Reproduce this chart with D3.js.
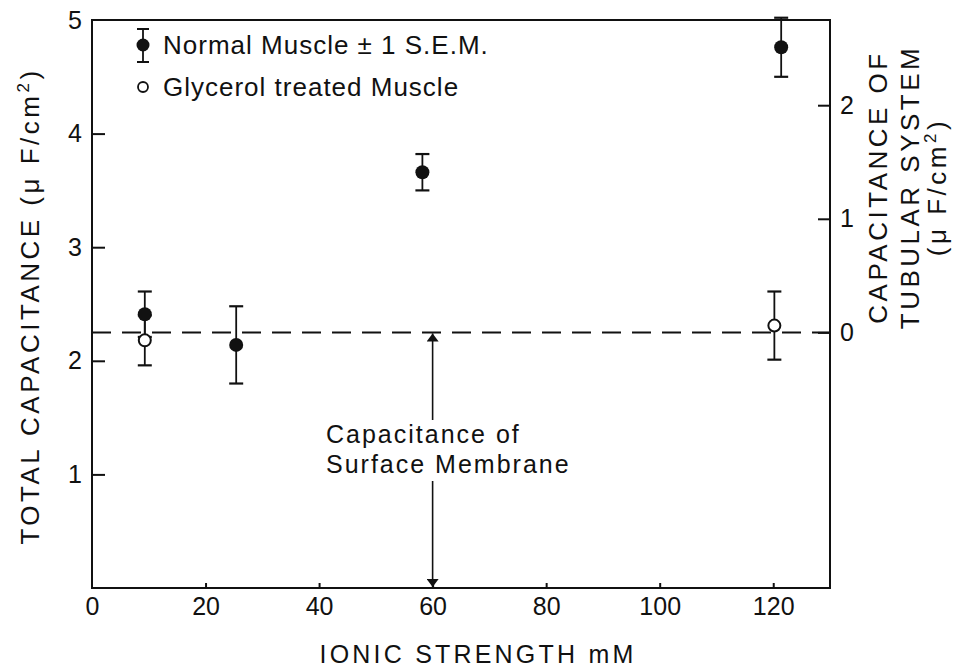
<!DOCTYPE html>
<html>
<head>
<meta charset="utf-8">
<script src="https://cdn.jsdelivr.net/npm/d3@7"></script>
<style>
  body { margin: 0; background: #fff; }
  text { font-family: "Liberation Sans", "DejaVu Sans", sans-serif; fill: #111; }
</style>
</head>
<body>
<div id="chart"></div>
<script>
// values
var normalX = [9.3, 25.4, 58.2, 121.4];
var normalY = [2.41, 2.14, 3.66, 4.76];
var normalErr = [0.20, 0.34, 0.16, 0.26];

var glycX = [9.3, 120.2];
var glycY = [2.18, 2.31];
var glycErr = [0.22, 0.30];

var surfaceLevel = 2.25;   // capacitance of surface membrane
var surfaceArrowX = 60;

var xTicks = [0, 20, 40, 60, 80, 100, 120];
var leftTicks = [1, 2, 3, 4, 5];
var rightTicks = [0, 1, 2];

var width = 962, height = 671;
var margin = {top: 20, right: 132, bottom: 83, left: 92};

var svg = d3.select("#chart").append("svg")
    .attr("width", width)
    .attr("height", height);

var x = d3.scaleLinear().domain([0, 130]).range([margin.left, width - margin.right]);
var y = d3.scaleLinear().domain([0, 5]).range([height - margin.bottom, margin.top]);
// right axis is the tubular part: total minus surface
var yR = d3.scaleLinear().domain([-surfaceLevel, 5 - surfaceLevel]).range([height - margin.bottom, margin.top]);

var fs = 25;
var fmt = d3.format("d");

// frame
svg.append("rect")
    .attr("x", x(0)).attr("y", y(5))
    .attr("width", x(130) - x(0)).attr("height", y(0) - y(5))
    .attr("fill", "none").attr("stroke", "#111").attr("stroke-width", 2);

// axes, ticks pointing inward
var gx = svg.append("g")
    .attr("transform", "translate(0," + y(0) + ")")
    .call(d3.axisTop(x).tickValues(xTicks.slice(1)).tickSize(5).tickFormat(""));
var gxl = svg.append("g")
    .attr("transform", "translate(0," + y(0) + ")")
    .call(d3.axisBottom(x).tickValues(xTicks).tickSize(0).tickPadding(9).tickFormat(fmt));
gxl.selectAll("text").style("font-size", fs + "px");

var gy = svg.append("g")
    .attr("transform", "translate(" + x(0) + ",0)")
    .call(d3.axisRight(y).tickValues(leftTicks.slice(0, 4)).tickSize(13).tickFormat(""));
var gyl = svg.append("g")
    .attr("transform", "translate(" + x(0) + ",0)")
    .call(d3.axisLeft(y).tickValues(leftTicks).tickSize(0).tickPadding(10).tickFormat(fmt));
gyl.selectAll("text").style("font-size", fs + "px");

var gr = svg.append("g")
    .attr("transform", "translate(" + x(130) + ",0)")
    .call(d3.axisLeft(yR).tickValues(rightTicks).tickSize(12).tickFormat(""));
var grl = svg.append("g")
    .attr("transform", "translate(" + x(130) + ",0)")
    .call(d3.axisRight(yR).tickValues(rightTicks).tickSize(0).tickPadding(10).tickFormat(fmt));
grl.selectAll("text").style("font-size", fs + "px");

[gx, gxl, gy, gyl, gr, grl].forEach(function(g) {
    g.select(".domain").remove();
    g.selectAll("line").attr("stroke", "#111").attr("stroke-width", 2);
});

// dashed surface membrane level
svg.append("line")
    .attr("x1", x(0)).attr("x2", x(130))
    .attr("y1", y(surfaceLevel)).attr("y2", y(surfaceLevel))
    .attr("stroke", "#111").attr("stroke-width", 2)
    .attr("stroke-dasharray", "19,11");

// double arrow with label
var defs = svg.append("defs");
defs.append("marker")
    .attr("id", "head")
    .attr("viewBox", "0 0 12 18")
    .attr("refX", 12).attr("refY", 9)
    .attr("markerWidth", 18).attr("markerHeight", 12)
    .attr("markerUnits", "userSpaceOnUse")
    .attr("orient", "auto")
  .append("path")
    .attr("d", "M0,0 L12,9 L0,18 Z")
    .attr("fill", "#111");

var ax = x(surfaceArrowX);
svg.append("line")
    .attr("x1", ax).attr("x2", ax)
    .attr("y1", 420).attr("y2", y(surfaceLevel) + 1)
    .attr("stroke", "#111").attr("stroke-width", 1.6)
    .attr("marker-end", "url(#head)");
svg.append("line")
    .attr("x1", ax).attr("x2", ax)
    .attr("y1", 481).attr("y2", y(0) - 1)
    .attr("stroke", "#111").attr("stroke-width", 1.6)
    .attr("marker-end", "url(#head)");

svg.append("text")
    .attr("x", 326).attr("y", 443)
    .style("font-size", "25px").style("letter-spacing", "2px")
    .text("Capacitance of");
svg.append("text")
    .attr("x", 326).attr("y", 473)
    .style("font-size", "25px").style("letter-spacing", "2px")
    .text("Surface Membrane");

// error bars
function errBars(xs, ys, es) {
    var g = svg.append("g");
    xs.forEach(function(xv, i) {
        var cx = x(xv), top = y(ys[i] + es[i]), bot = y(ys[i] - es[i]);
        g.append("line").attr("x1", cx).attr("x2", cx).attr("y1", top).attr("y2", bot)
            .attr("stroke", "#111").attr("stroke-width", 1.8);
        [top, bot].forEach(function(cy) {
            g.append("line").attr("x1", cx - 7).attr("x2", cx + 7).attr("y1", cy).attr("y2", cy)
                .attr("stroke", "#111").attr("stroke-width", 2.2);
        });
    });
}
errBars(glycX, glycY, glycErr);
errBars(normalX, normalY, normalErr);

svg.append("g").selectAll("circle")
    .data(glycX)
    .enter().append("circle")
    .attr("cx", function(d) { return x(d); })
    .attr("cy", function(d, i) { return y(glycY[i]); })
    .attr("r", 6)
    .attr("fill", "#fff").attr("stroke", "#111").attr("stroke-width", 2);

svg.append("g").selectAll("circle")
    .data(normalX)
    .enter().append("circle")
    .attr("cx", function(d) { return x(d); })
    .attr("cy", function(d, i) { return y(normalY[i]); })
    .attr("r", 7)
    .attr("fill", "#111");

// legend
var lg = svg.append("g");
lg.append("line").attr("x1", 143).attr("x2", 143).attr("y1", 29).attr("y2", 62)
    .attr("stroke", "#111").attr("stroke-width", 1.8);
[29, 62].forEach(function(cy) {
    lg.append("line").attr("x1", 137).attr("x2", 149).attr("y1", cy).attr("y2", cy)
        .attr("stroke", "#111").attr("stroke-width", 2);
});
lg.append("circle").attr("cx", 143).attr("cy", 45).attr("r", 6.5).attr("fill", "#111");
lg.append("text").attr("x", 163).attr("y", 54)
    .style("font-size", "26px").style("letter-spacing", "1px")
    .text("Normal Muscle \u00b1 1 S.E.M.");
lg.append("circle").attr("cx", 143).attr("cy", 87).attr("r", 5)
    .attr("fill", "#fff").attr("stroke", "#111").attr("stroke-width", 1.8);
lg.append("text").attr("x", 163).attr("y", 96)
    .style("font-size", "26px").style("letter-spacing", "1px")
    .text("Glycerol treated Muscle");

// axis titles
svg.append("text")
    .attr("x", 478).attr("y", 663)
    .attr("text-anchor", "middle")
    .style("font-size", "25px").style("letter-spacing", "3.2px")
    .text("IONIC STRENGTH mM");

var lt = svg.append("text")
    .attr("transform", "translate(39,306) rotate(-90)")
    .attr("text-anchor", "middle")
    .style("font-size", "26px").style("letter-spacing", "3.5px");
lt.append("tspan").text("TOTAL CAPACITANCE (\u03bc F/cm");
lt.append("tspan").attr("dy", -10).style("font-size", "17px").text("2");
lt.append("tspan").attr("dy", 10).text(")");

var rt = svg.append("text")
    .attr("transform", "translate(887,187) rotate(-90)")
    .attr("text-anchor", "middle")
    .style("font-size", "26px").style("letter-spacing", "3.5px");
rt.append("tspan").attr("x", 0).attr("y", 0).text("CAPACITANCE OF");
rt.append("tspan").attr("x", 0).attr("y", 32).text("TUBULAR SYSTEM");
rt.append("tspan").attr("x", 0).attr("y", 59).text("(\u03bc F/cm");
rt.append("tspan").attr("dy", -10).style("font-size", "17px").text("2");
rt.append("tspan").attr("dy", 10).text(")");
</script>
</body>
</html>
